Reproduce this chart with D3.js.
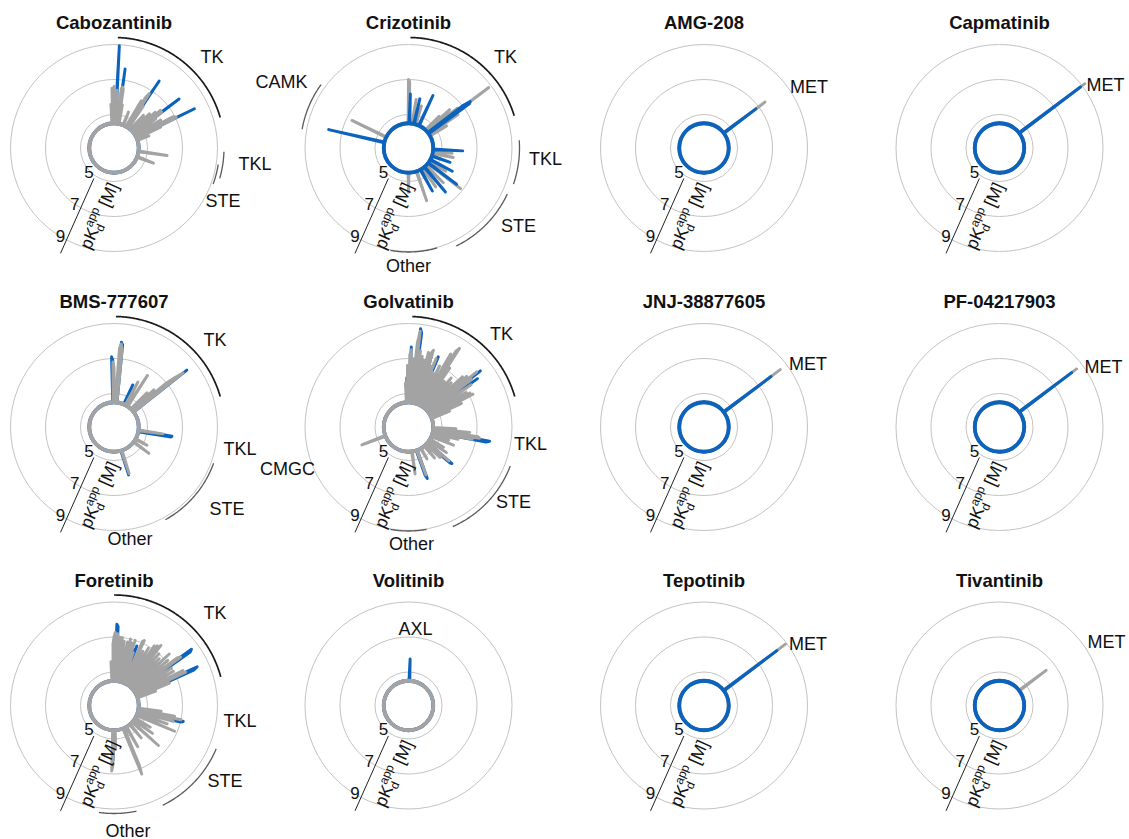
<!DOCTYPE html>
<html>
<head>
<meta charset="utf-8">
<script src="https://cdn.jsdelivr.net/npm/d3@7"></script>
<style>
  body { margin: 0; background: #fff; }
  text { font-family: "Liberation Sans", Arial, sans-serif; fill: #111; }
</style>
</head>
<body>
<svg id="chart" width="1129" height="839"></svg>
<script>
// Kinome order: 360 slots clockwise from 12 o'clock
const kinaseSlots = 360;
const baselinePKd = 4.5;
const ringTicks = [5, 7, 9];

const drugNames = ["Cabozantinib", "Crizotinib", "AMG-208", "Capmatinib",
                   "BMS-777607", "Golvatinib", "JNJ-38877605", "PF-04217903",
                   "Foretinib", "Volitinib", "Tepotinib", "Tivantinib"];

// Binding profiles as [kinase slot, pKd app]; unlisted slots sit at the baseline
const cabozantinibPrimary = [[3,8.94],[8,7.65],[34,7.7],[53,7.74],[64,8.2]];
const cabozantinibSecondary = [[356,5.6],[358,6.5],[0,6.6],[1,6.2],[3,6.4],[5,5.8],[7,6.5],[8,6.6],[9,6.5],[11,5.6],[22,5.3],[30,6.2],[32,6.5],[33,6.8],[35,6.0],[42,5.6],[46,5.9],[49,6.2],[51,6.5],[53,6.5],[55,6.0],[59,6.2],[62,6.9],[63,7.0],[64,7.05],[66,6.0],[71,5.2],[98,6.15],[111,5.5]];

const crizotinibPrimary = [[283,7.77],[2,6.17],[13,5.97],[25,6.4],[52,7.0],[53,7.5],[54,7.4],[93,6.19],[109,5.6],[118,5.92],[127,6.53],[140,6.37],[151,5.9]];
const crizotinibSecondary = [[0,7.0],[1,6.9],[9,5.9],[17,5.6],[44,5.6],[47,6.3],[50,6.0],[51,6.7],[53,8.83],[56,6.5],[60,5.6],[97,5.6],[102,5.7],[122,5.6],[128,6.86],[135,5.9],[145,5.8],[161,6.27],[180,5.62],[296,6.68]];

const amg208Primary = [[53,6.8]];
const amg208Secondary = [[53,7.45]];

const capmatinibPrimary = [[53,8.88]];
const capmatinibSecondary = [[53,9.19]];

const bms777607Primary = [[358,7.1],[359,6.9],[5,7.95],[6,7.8],[24,5.72],[52,8.37],[99,6.44],[100,6.4],[163,5.95]];
const bms777607Secondary = [[359,6.8],[0,6.5],[4,7.6],[5,7.85],[6,7.5],[28,6.0],[33,6.6],[44,5.8],[47,6.2],[50,7.0],[51,7.6],[52,8.1],[98,5.9],[119,5.24],[127,5.58],[162,5.88]];

const golvatinibPrimary = [[358,5.9],[0,6.6],[2,7.66],[7,8.75],[8,8.5],[12,7.0],[18,7.39],[23,7.44],[52,8.3],[55,7.9],[100,7.79],[101,7.6],[130,6.33],[131,6.2],[160,6.22],[161,6.0]];
const golvatinibSecondary = [[356,5.6],[359,6.6],[1,7.2],[2,7.5],[4,7.0],[6,7.9],[7,8.6],[9,7.5],[11,7.2],[13,7.0],[15,7.5],[17,7.5],[18,7.7],[20,6.8],[22,7.3],[24,6.5],[27,7.0],[30,7.9],[32,8.2],[33,8.45],[35,7.2],[38,6.4],[41,6.8],[44,6.6],[47,7.3],[49,7.5],[51,8.1],[53,7.6],[56,7.4],[59,6.9],[61,7.1],[63,7.22],[66,6.4],[69,5.6],[92,5.8],[95,6.6],[98,7.1],[99,7.2],[101,6.8],[104,6.0],[108,5.5],[112,5.86],[120,5.4],[124,5.7],[130,6.1],[134,5.6],[140,5.4],[150,5.2],[160,6.0],[172,5.8],[249,5.94]];

const jnj38877605Primary = [[53,7.88]];
const jnj38877605Secondary = [[53,8.54]];

const pf04217903Primary = [[53,8.25]];
const pf04217903Secondary = [[53,8.6]];

const foretinibPrimary = [[2,7.74],[3,7.6],[19,6.5],[21,6.73],[54,8.56],[55,8.4],[65,8.33],[66,8.1],[103,7.15],[104,7.0],[181,6.2]];
const foretinibSecondary = [[356,5.6],[359,6.6],[0,7.0],[1,7.26],[3,7.2],[5,7.0],[7,7.0],[9,6.8],[12,6.8],[14,7.0],[16,6.8],[18,7.0],[20,6.3],[24,7.1],[25,7.18],[28,6.6],[31,6.9],[34,7.2],[36,7.3],[38,7.44],[41,7.0],[44,6.8],[47,7.4],[50,7.1],[53,7.6],[54,7.8],[57,7.0],[60,7.0],[63,7.5],[65,7.6],[68,6.5],[71,5.6],[97,5.8],[100,6.6],[102,7.0],[105,6.6],[109,6.3],[113,6.85],[121,5.5],[126,5.8],[132,6.5],[140,5.5],[150,5.8],[157,6.8],[158,7.31],[178,5.6],[181,6.5],[182,6.83]];

const volitinibPrimary = [[2,5.75]];
const volitinibSecondary = [];

const tepotinibPrimary = [[53,8.3]];
const tepotinibSecondary = [[53,8.91]];

const tivantinibPrimary = [];
const tivantinibSecondary = [[53,6.42]];

// Which profile is painted last (on top) in each panel
const secondaryOnTop = ["Cabozantinib", "BMS-777607", "Golvatinib", "Foretinib", "Volitinib"];

const profiles = {
  "Cabozantinib": [cabozantinibPrimary, cabozantinibSecondary],
  "Crizotinib": [crizotinibPrimary, crizotinibSecondary],
  "AMG-208": [amg208Primary, amg208Secondary],
  "Capmatinib": [capmatinibPrimary, capmatinibSecondary],
  "BMS-777607": [bms777607Primary, bms777607Secondary],
  "Golvatinib": [golvatinibPrimary, golvatinibSecondary],
  "JNJ-38877605": [jnj38877605Primary, jnj38877605Secondary],
  "PF-04217903": [pf04217903Primary, pf04217903Secondary],
  "Foretinib": [foretinibPrimary, foretinibSecondary],
  "Volitinib": [volitinibPrimary, volitinibSecondary],
  "Tepotinib": [tepotinibPrimary, tepotinibSecondary],
  "Tivantinib": [tivantinibPrimary, tivantinibSecondary]
};

// Kinase group spans [group, first slot, last slot] marked around each wheel
const groupSpans = {
  "Cabozantinib": [["TK",2,74],["TKL",92,106],["STE",99,110]],
  "Crizotinib": [["CAMK",280,306],["TK",1,73],["TKL",86,109],["STE",115,154],["Other",164,190]],
  "BMS-777607": [["TK",1,74],["STE",110,151]],
  "Golvatinib": [["TK",2,74],["STE",111,156],["Other",170,190]],
  "Foretinib": [["TK",0,75],["STE",113,154],["Other",168,188]]
};

// ---- layout ----
const W = 1129, H = 839;
const colX = [114, 408.5, 704, 999.5];
const rowY = [148, 427, 705.5];
const primaryColor = "#0b63bd";
const secondaryColor = "#a3a3a3";

const spanRadius = { TK: 110.5, TKL: 111, STE: 109, Other: 104, CAMK: 108 };
const spanRadiusOverride = { "Cabozantinib": { TKL: 110, STE: 105.5 }, "BMS-777607": { STE: 106 }, "Foretinib": { Other: 108, STE: 111 } };

// group / kinase label offsets from the wheel centre
const labelPlacement = {
  "Cabozantinib": [["TK",98,-91],["TKL",141,16],["STE",109,53]],
  "Crizotinib": [["CAMK",-127,-66],["TK",97,-91],["TKL",137,11],["STE",110,78],["Other",0,118]],
  "AMG-208": [["MET",105,-61]],
  "Capmatinib": [["MET",106,-63]],
  "BMS-777607": [["TK",101,-87],["TKL",126,22],["STE",113,82],["Other",16,112]],
  "Golvatinib": [["TK",93,-93],["TKL",122,17],["STE",105,75],["Other",3,117],["CMGC",-121,42]],
  "JNJ-38877605": [["MET",104,-63]],
  "PF-04217903": [["MET",104,-60]],
  "Foretinib": [["TK",101,-93],["TKL",126,15],["STE",111,75],["Other",14,125]],
  "Volitinib": [["AXL",7,-77]],
  "Tepotinib": [["MET",104,-62]],
  "Tivantinib": [["MET",107,-64]]
};

const rScale = d3.scaleLinear().domain([5, 9]).range([33.5, 103.5]);
const aScale = d3.scaleLinear().domain([0, kinaseSlots]).range([0, 2 * Math.PI]);

function fullProfile(hits) {
  const vals = new Array(kinaseSlots).fill(baselinePKd);
  hits.forEach(([slot, v]) => { vals[(slot + kinaseSlots) % kinaseSlots] = v; });
  return vals.map((v, i) => ({ i, v }));
}

const radialLine = d3.lineRadial()
  .angle(d => aScale(d.i))
  .radius(d => rScale(d.v))
  .curve(d3.curveLinearClosed);

const arcLine = d3.lineRadial().curve(d3.curveLinear);

// pKd axis direction (degrees clockwise from 12 o'clock)
const axisDeg = 204;
const th = axisDeg * Math.PI / 180;
const u = [Math.sin(th), -Math.cos(th)];      // outward along the axis
const nL = [-u[1], u[0]];                      // perpendicular, to the left of the axis
const axisShift = 6;
const axisRotate = Math.atan2(-u[1], -u[0]) * 180 / Math.PI; // reading upward along the axis

const svg = d3.select("#chart");
svg.append("rect").attr("width", W).attr("height", H).attr("fill", "#fff");

drugNames.forEach((name, k) => {
  const cx = colX[k % 4], cy = rowY[Math.floor(k / 4)];
  const g = svg.append("g").attr("transform", `translate(${cx},${cy})`);

  // concentric pKd rings
  g.selectAll("circle.ring").data(ringTicks).join("circle")
    .attr("class", "ring")
    .attr("r", d => rScale(d))
    .attr("fill", "none")
    .attr("stroke", "#c3c3c3")
    .attr("stroke-width", 1);

  // profiles: baseline ring plus spikes
  const [prim, sec] = profiles[name];
  const series = [
    { hits: prim, color: primaryColor },
    { hits: sec, color: secondaryColor }
  ];
  if (!secondaryOnTop.includes(name)) series.reverse();
  series.forEach(s => {
    g.append("circle")
      .attr("r", rScale(baselinePKd))
      .attr("fill", "none")
      .attr("stroke", s.color)
      .attr("stroke-width", 3.8);
    g.append("path")
      .attr("d", radialLine(fullProfile(s.hits)))
      .attr("fill", "none")
      .attr("stroke", s.color)
      .attr("stroke-width", 2.9)
      .attr("stroke-linejoin", "round")
      .attr("stroke-linecap", "round");
  });

  // kinase group arcs
  (groupSpans[name] || []).forEach(([grp, a0, a1]) => {
    const rr = (spanRadiusOverride[name] && spanRadiusOverride[name][grp]) || spanRadius[grp];
    const pts = d3.range(a0, a1 + 0.01, 0.5).map(s => [aScale(s), rr]);
    g.append("path")
      .attr("d", arcLine(pts))
      .attr("fill", "none")
      .attr("stroke", grp === "TK" ? "#1a1a1a" : "#5a5a5a")
      .attr("stroke-width", grp === "TK" ? 1.7 : 1.3);
  });

  // group labels
  (labelPlacement[name] || []).forEach(([txt, dx, dy]) => {
    g.append("text")
      .attr("x", dx).attr("y", dy)
      .attr("text-anchor", "middle")
      .attr("dominant-baseline", "central")
      .attr("font-size", 18)
      .text(txt);
  });

  // title
  g.append("text")
    .attr("x", 0).attr("y", -119)
    .attr("text-anchor", "middle")
    .attr("font-size", 18.5)
    .attr("font-weight", "bold")
    .text(name);

  // pKd axis line
  const t0 = 36, t1 = 118;
  g.append("line")
    .attr("x1", t0 * u[0] + axisShift * nL[0]).attr("y1", t0 * u[1] + axisShift * nL[1])
    .attr("x2", t1 * u[0] + axisShift * nL[0]).attr("y2", t1 * u[1] + axisShift * nL[1])
    .attr("stroke", "#222").attr("stroke-width", 1);

  // tick labels
  ringTicks.forEach(v => {
    const t = rScale(v) - 1;
    g.append("text")
      .attr("x", t * u[0] + 13 * nL[0])
      .attr("y", t * u[1] + 13 * nL[1])
      .attr("text-anchor", "middle")
      .attr("dominant-baseline", "central")
      .attr("font-size", 17)
      .text(v);
  });

  // axis title  pKd^app [M]
  const tm = 68, off = -20;
  const tx = tm * u[0] + off * nL[0], ty = tm * u[1] + off * nL[1];
  const at = g.append("text")
    .attr("transform", `translate(${tx},${ty}) rotate(${axisRotate})`)
    .attr("text-anchor", "middle")
    .attr("font-size", 17.5);
  at.append("tspan").text("pK");
  at.append("tspan").attr("font-size", 12).attr("dy", 4).text("d");
  at.append("tspan").attr("font-size", 12).attr("dx", -6.7).attr("dy", -12).text("app");
  at.append("tspan").attr("dy", 8).text(" [M]");
});
</script>
</body>
</html>
